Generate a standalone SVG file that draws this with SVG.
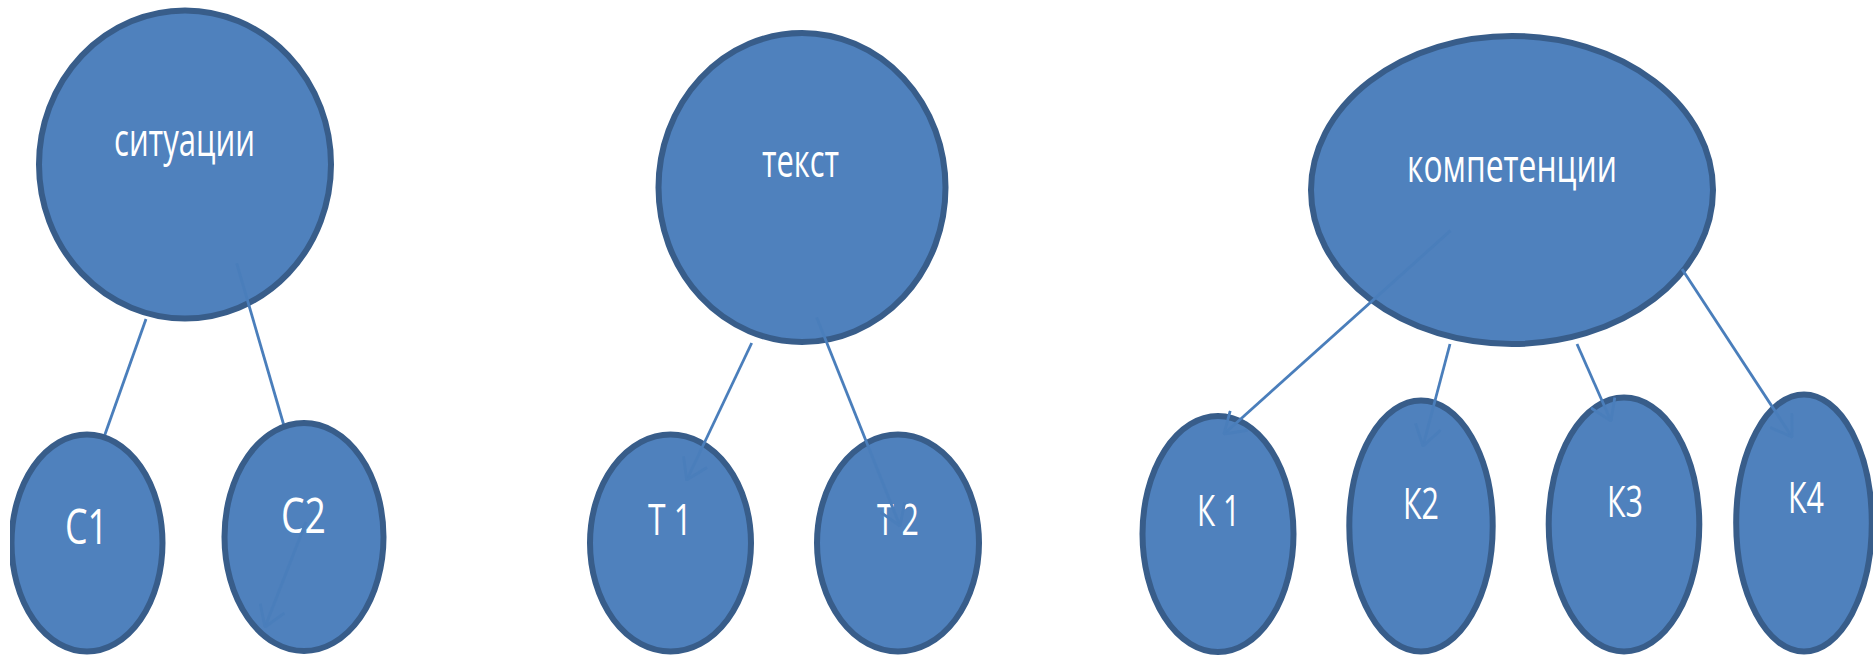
<svg xmlns="http://www.w3.org/2000/svg" width="1873" height="655" viewBox="0 0 1873 655">
  <style>
    .node { fill: #4f81bd; stroke: #385d8a; stroke-width: 6; }
    .lbl { fill: #ffffff; font-family: "Open Sans", "Liberation Sans", sans-serif; }
    .low { font-size: 45px; }
    .cap { font-size: 43px; }
    .capc { font-size: 49px; }
    .conn { stroke: #4a7ebb; stroke-width: 2.8; fill: none; }
  </style>
  <defs>
    <marker id="arrow" markerUnits="userSpaceOnUse" viewBox="0 0 22 28" refX="21" refY="14" markerWidth="22" markerHeight="28" orient="auto">
      <path d="M1,1 L21,14 L1,27" fill="none" stroke="#4a7ebb" stroke-width="2.8"/>
    </marker>
    <clipPath id="clipLeft">
      <rect x="10" y="0" width="1863" height="655"/>
    </clipPath>
  </defs>
  <rect x="0" y="0" width="1873" height="655" fill="#ffffff"/>

  <g id="node-situatsii">
    <ellipse class="node" cx="185" cy="164.5" rx="146" ry="154"/>
    <text class="lbl low" x="114" y="156" textLength="141" lengthAdjust="spacingAndGlyphs">ситуации</text>
  </g>

  <g id="connectors-under">
    <line class="conn" x1="146" y1="319" x2="98" y2="454"/>
    <line class="conn" x1="236.7" y1="263.3" x2="289" y2="443"/>
  </g>

  <g id="node-c1" clip-path="url(#clipLeft)">
    <ellipse class="node" cx="87" cy="543" rx="75.5" ry="108.5"/>
    <text class="lbl capc" x="65" y="544" textLength="43" lengthAdjust="spacingAndGlyphs">С1</text>
  </g>
  <g id="node-c2">
    <ellipse class="node" cx="304" cy="537" rx="79.5" ry="114"/>
    <text class="lbl capc" x="281" y="533" textLength="45" lengthAdjust="spacingAndGlyphs">С2</text>
  </g>

  <g id="node-tekst">
    <ellipse class="node" cx="802" cy="187.5" rx="143.5" ry="154.5"/>
    <text class="lbl low" x="762" y="177" textLength="77" lengthAdjust="spacingAndGlyphs">текст</text>
  </g>
  <g id="node-t1">
    <ellipse class="node" cx="670.5" cy="543" rx="80.5" ry="108.5"/>
    <text class="lbl cap" x="648" y="535" textLength="44" lengthAdjust="spacingAndGlyphs">Т 1</text>
  </g>
  <g id="node-t2">
    <ellipse class="node" cx="898" cy="543" rx="81" ry="108.5"/>
    <text class="lbl cap" x="877" y="535" textLength="42" lengthAdjust="spacingAndGlyphs">Т 2</text>
  </g>

  <g id="node-kompetentsii">
    <ellipse class="node" cx="1512" cy="190" rx="201" ry="154"/>
    <text class="lbl low" x="1407" y="182" textLength="210" lengthAdjust="spacingAndGlyphs">компетенции</text>
  </g>
  <g id="node-k1">
    <ellipse class="node" cx="1218" cy="534" rx="75.5" ry="118"/>
    <text class="lbl cap" x="1197" y="526" textLength="43" lengthAdjust="spacingAndGlyphs">К 1</text>
  </g>
  <g id="node-k2">
    <ellipse class="node" cx="1421" cy="526" rx="71.7" ry="125.5"/>
    <text class="lbl cap" x="1403" y="519" textLength="36" lengthAdjust="spacingAndGlyphs">К2</text>
  </g>
  <g id="node-k3">
    <ellipse class="node" cx="1624" cy="524.5" rx="75.3" ry="127"/>
    <text class="lbl cap" x="1607" y="517" textLength="36" lengthAdjust="spacingAndGlyphs">К3</text>
  </g>
  <g id="node-k4">
    <ellipse class="node" cx="1804" cy="523" rx="67.8" ry="128.5"/>
    <text class="lbl cap" x="1788" y="513" textLength="36" lengthAdjust="spacingAndGlyphs">К4</text>
  </g>

  <g id="connectors">
    <line class="conn" x1="306" y1="522" x2="265" y2="627" marker-end="url(#arrow)"/>
    <line class="conn" x1="751.7" y1="343" x2="686.7" y2="480" marker-end="url(#arrow)"/>
    <line class="conn" x1="816.7" y1="317.5" x2="900" y2="526" marker-end="url(#arrow)"/>
    <line class="conn" x1="1450.5" y1="230.6" x2="1224" y2="434" marker-end="url(#arrow)"/>
    <line class="conn" x1="1450" y1="344" x2="1423" y2="446" marker-end="url(#arrow)"/>
    <line class="conn" x1="1577" y1="344" x2="1611" y2="421" marker-end="url(#arrow)"/>
    <line class="conn" x1="1682" y1="269" x2="1792" y2="437" marker-end="url(#arrow)"/>
  </g>
</svg>
